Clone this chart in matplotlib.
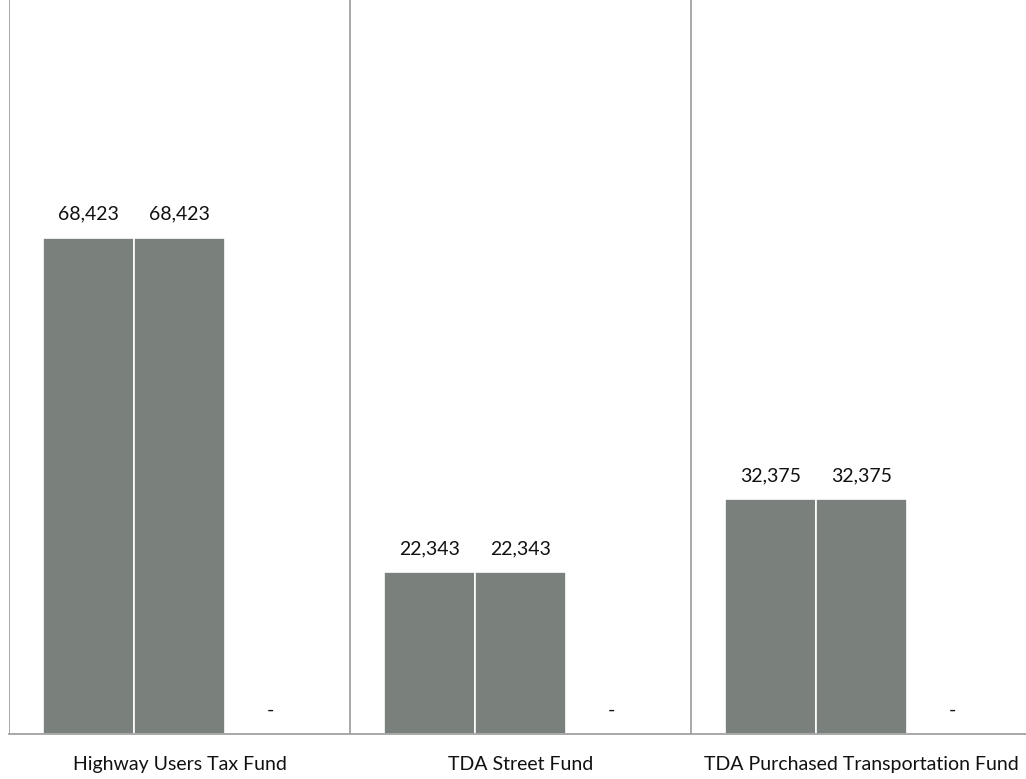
import matplotlib.pyplot as plt
import numpy as np

categories = ['Highway Users Tax Fund', 'TDA Street Fund', 'TDA Purchased Transportation Fund']
series_a = [68423, 22343, 32375]
series_b = [68423, 22343, 32375]
series_c = [0, 0, 0]

plt.rcParams['font.family'] = ['Lato', 'DejaVu Sans']

fig = plt.figure(figsize=(10.26, 7.79), dpi=100)
W, H = 1026, 779
ax = fig.add_axes([9 / W, 45 / H, 1023 / W, 734 / H])

x = np.arange(len(categories))
w = 0.8 / 3
bar_color = '#7a807c'

for i, vals in enumerate([series_a, series_b, series_c]):
    pos = x + (i - 1) * w
    bars = ax.bar(pos, vals, w, color=bar_color, edgecolor='white', linewidth=1.2)
    for b, v in zip(bars, vals):
        txt = '{:,}'.format(v) if v else '-'
        ax.annotate(txt, (b.get_x() + b.get_width() / 2, v), xytext=(0, 17),
                    textcoords='offset points', ha='center', va='center',
                    fontsize=14, color='#111111')

# category separators
for sep in [-0.5, 0.5, 1.5]:
    ax.axvline(sep, color='#9a9a9a', lw=1.2)

ax.set_xlim(-0.5, 2.5)
ax.set_ylim(0, 101250)
ax.set_xticks(x)
ax.set_xticklabels(categories, fontsize=14, color='#111111')
ax.tick_params(axis='x', length=0, pad=16)
ax.set_yticks([])
for s in ['top', 'right', 'left']:
    ax.spines[s].set_visible(False)
ax.spines['bottom'].set_color('#9a9a9a')
ax.spines['bottom'].set_linewidth(1.2)

fig.savefig('out.png', dpi=100)
